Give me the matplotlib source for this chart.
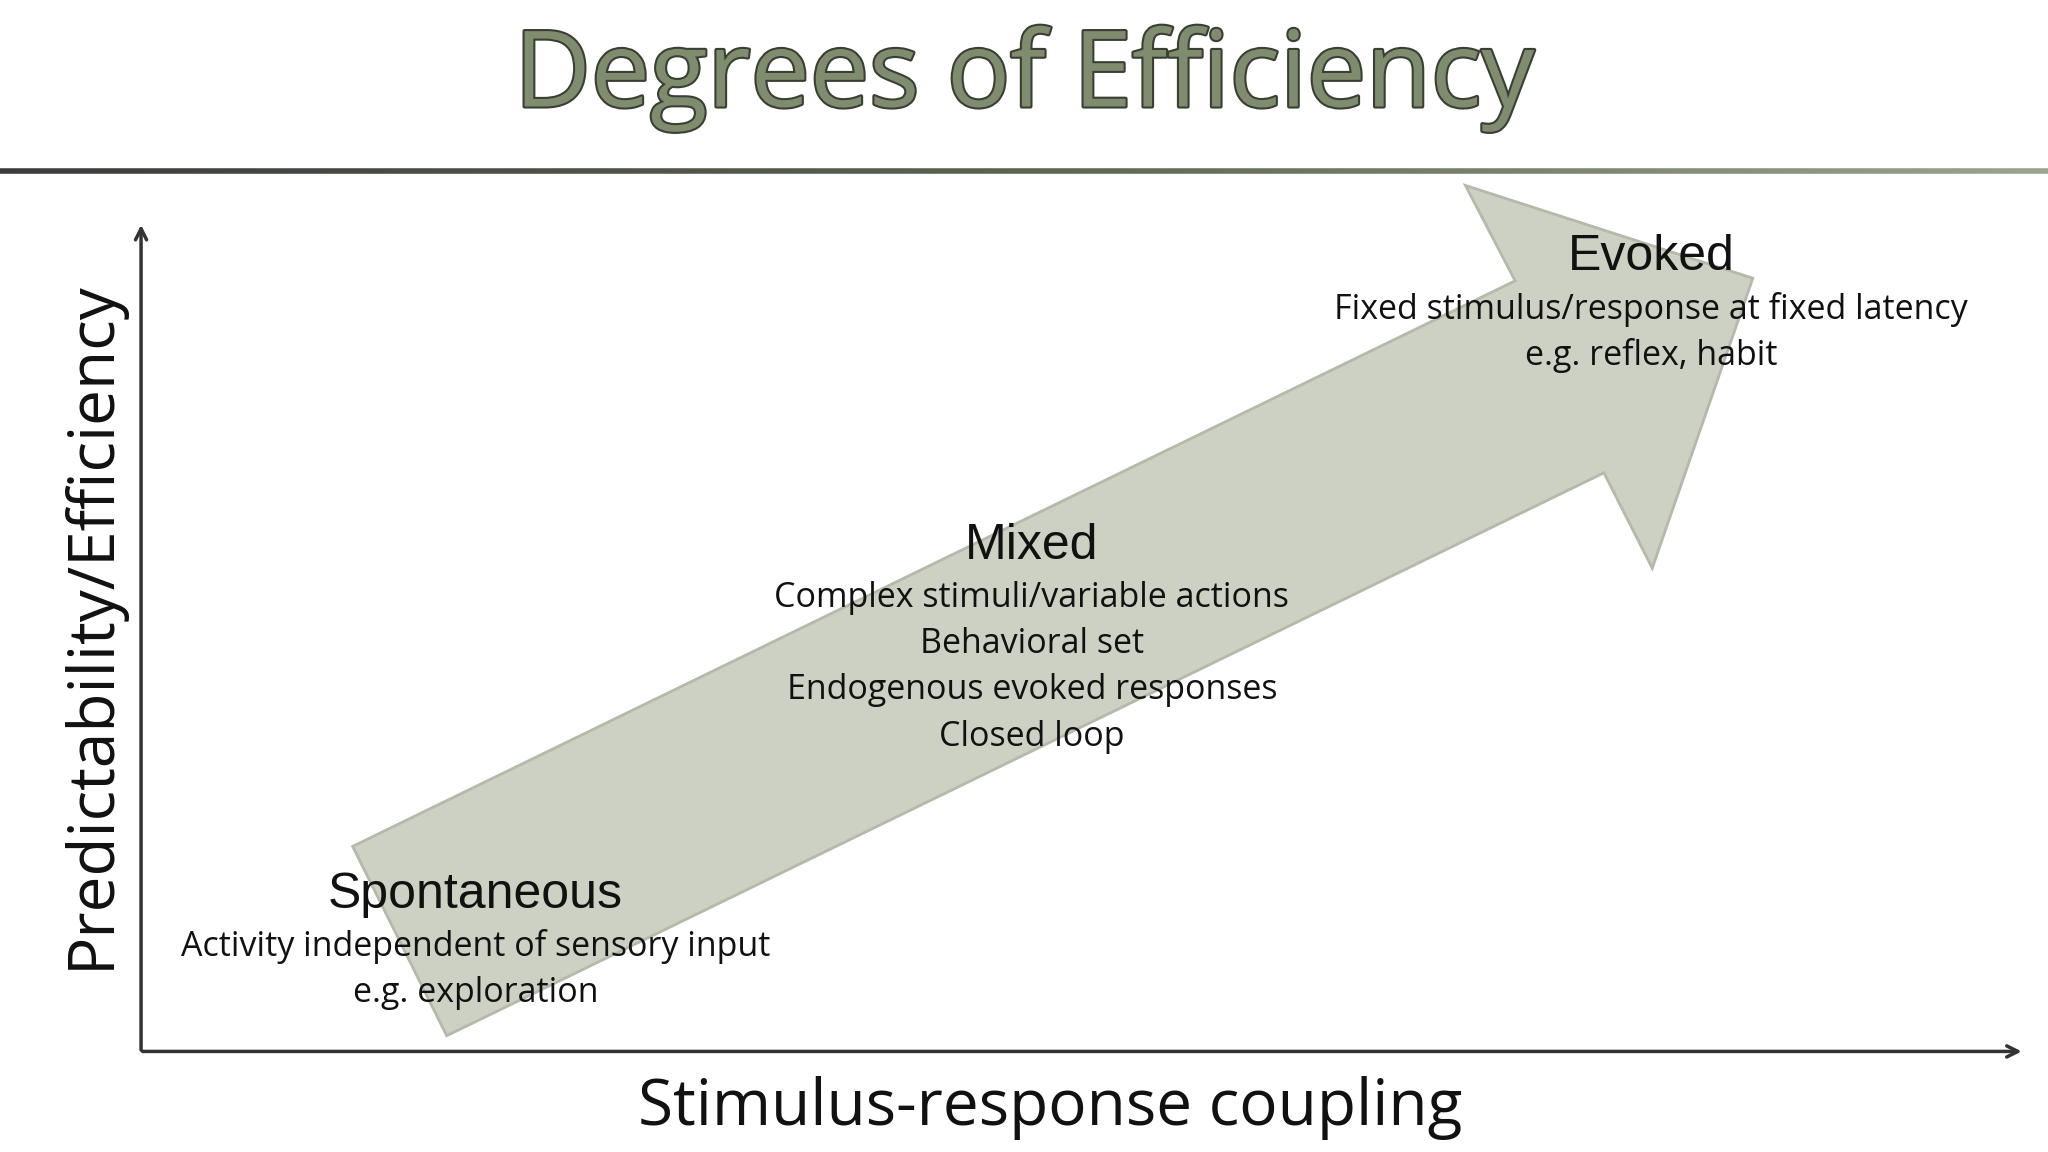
import matplotlib
matplotlib.use("Agg")
import matplotlib.pyplot as plt
from matplotlib.patches import Polygon
import matplotlib.patheffects as pe
import numpy as np

title = "Degrees of Efficiency"
x_label = "Stimulus-response coupling"
y_label = "Predictability/Efficiency"
headings = ["Spontaneous", "Mixed", "Evoked"]
details = [
    ["Activity independent of sensory input", "e.g. exploration"],
    ["Complex stimuli/variable actions", "Behavioral set", "Endogenous evoked responses", "Closed loop"],
    ["Fixed stimulus/response at fixed latency", "e.g. reflex, habit"],
]
heading_pos = [(364, 685), (790, 418), (1264, 197)]
arrow_pts = [(342, 793), (270, 648), (1160, 215), (1122, 142), (1342, 213), (1265, 435), (1228, 362)]

fig = plt.figure(figsize=(20.48, 11.52), dpi=100)
ax = fig.add_axes([0, 0, 1, 1])
ax.set_xlim(0, 1568); ax.set_ylim(882, 0); ax.axis("off")

ax.text(784, 60, title, ha="center", va="center", fontsize=76, family="Open Sans",
        color="#7f8c6e", path_effects=[pe.withStroke(linewidth=3, foreground="#3a3f35")])
# header line with gradient
xs = np.linspace(0, 1568, 200)
cols = plt.cm.colors.LinearSegmentedColormap.from_list("g", ["#3c3c3c", "#5a6450", "#9aa390"])
for i in range(len(xs) - 1):
    ax.plot(xs[i:i+2], [131, 131], color=cols(i / 199), lw=4, solid_capstyle="butt")

ax.add_patch(Polygon(arrow_pts, closed=True, facecolor="#cdd1c3", edgecolor="#b4b9aa", lw=2))

ax.annotate("", xy=(108, 170), xytext=(108, 806),
            arrowprops=dict(arrowstyle="->,head_length=0.8,head_width=0.4", color="#333333", lw=2.5))
ax.annotate("", xy=(1550, 805), xytext=(107, 805),
            arrowprops=dict(arrowstyle="->,head_length=0.8,head_width=0.4", color="#333333", lw=2.5))

ax.text(804, 848, x_label, ha="center", va="center", fontsize=46, family="Open Sans", color="#111111")
ax.text(70, 478, y_label, ha="center", va="center", rotation=90, fontsize=46, family="Open Sans", color="#111111")

for h, d, (x, y) in zip(headings, details, heading_pos):
    ax.text(x, y, h, ha="center", va="center", fontsize=36, family="Liberation Sans", color="#111111")
    for j, line in enumerate(d):
        ax.text(x, y + 40 + 35.3 * j, line, ha="center", va="center", fontsize=24.5,
                family="Open Sans", color="#111111")

fig.savefig("out.png", dpi=100, facecolor="white")
